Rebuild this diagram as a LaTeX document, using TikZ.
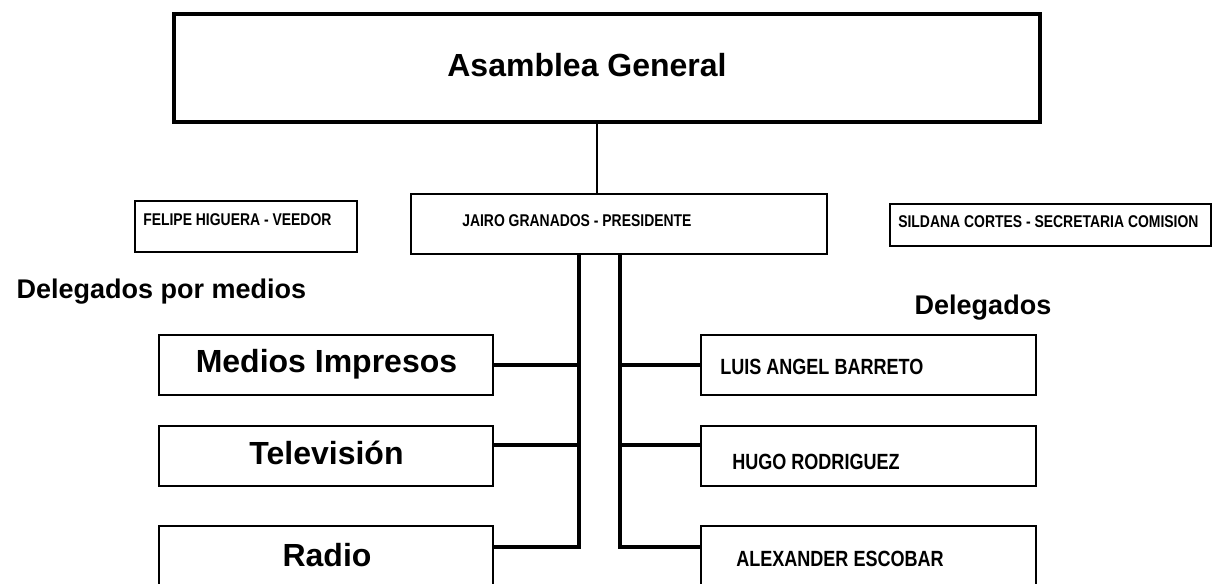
\documentclass[tikz,border=0pt]{standalone}
\usepackage{fontspec}
\setmainfont{Liberation Sans}
\usepackage{tikz}
\usetikzlibrary{calc}

\newcommand{\estrecho}[1]{\scalebox{0.82}[1]{#1}}

\begin{document}
\begin{tikzpicture}[x=0.75pt,y=-0.75pt,
		caja/.style={draw,line width=1.2pt,inner sep=0pt},
		grande/.style={font=\fontsize{24}{28}\selectfont\bfseries},
		titulo/.style={font=\fontsize{20.25}{24}\selectfont\bfseries},
		chico/.style={font=\fontsize{12.75}{15}\selectfont\bfseries,inner sep=0pt},
		medio/.style={font=\fontsize{16.5}{19}\selectfont\bfseries,inner sep=0pt},
		linea/.style={line width=2.5pt}]
	\clip (0,0) rectangle (1213,584);
	\fill[white] (0,0) rectangle (1213,584);
	%
	\node[caja,line width=2.4pt,minimum width=649.5pt,minimum height=81pt] (AG) at (607,68) {};
	\node[grande,anchor=base] (AGt) at (587,77) {Asamblea General};
	%
	\node[caja,minimum width=312pt,minimum height=45pt] (P) at (619,224) {};
	\node[chico,anchor=base west] (Pt) at (462,227) {\estrecho{JAIRO GRANADOS - PRESIDENTE}};
	\node[caja,minimum width=166.5pt,minimum height=38.25pt] (V) at (246,226.5) {};
	\node[chico,anchor=base west] (Vt) at (143,226) {\estrecho{FELIPE HIGUERA - VEEDOR}};
	\node[caja,minimum width=240.75pt,minimum height=31.5pt] (S) at (1050.5,225) {};
	\node[chico,anchor=base west] (St) at (898,227.5) {\estrecho{SILDANA CORTES - SECRETARIA COMISION}};
	%
	\node[titulo,anchor=base west] (DM) at (12,299) {Delegados por medios};
	\node[titulo,anchor=base west] (DD) at (910,315) {Delegados};
	%
	\node[caja,minimum width=250.5pt,minimum height=45pt] (MI) at (326,365) {};
	\node[grande,anchor=base] (MIt) at (326.5,373) {Medios Impresos};
	\node[caja,minimum width=250.5pt,minimum height=45pt] (TV) at (326,456) {};
	\node[grande,anchor=base] (TVt) at (326.5,464.5) {Televisión};
	\node[caja,minimum width=250.5pt,minimum height=60pt] (R) at (326,566) {};
	\node[grande,anchor=base] (Rt) at (327,566.5) {Radio};
	%
	\node[caja,minimum width=251.25pt,minimum height=45pt] (D1) at (868.5,365) {};
	\node[medio,anchor=base west] (D1t) at (720,374) {\estrecho{LUIS ANGEL BARRETO}};
	\node[caja,minimum width=251.25pt,minimum height=45pt] (D2) at (868.5,456) {};
	\node[medio,anchor=base west] (D2t) at (732,469) {\estrecho{HUGO RODRIGUEZ}};
	\node[caja,minimum width=251.25pt,minimum height=60pt] (D3) at (868.5,566) {};
	\node[medio,anchor=base west] (D3t) at (736,566) {\estrecho{ALEXANDER ESCOBAR}};
	%
	\coordinate (tL) at (579,547);
	\coordinate (tR) at (620,547);
	\coordinate (bT) at (579,445);
	%
	\draw[line width=1.6pt] ([xshift=-7.5pt]AG.south) -- ([xshift=-7.5pt]AG.south |- P.north);
	\draw[linea] (tL |- P.south) -- (tL) -- (tL -| R.east);
	\draw[linea] (tR |- P.south) -- (tR) -- (tR -| D3.west);
	\draw[linea] (MI.east) -- (MI.east -| tL);
	\draw[linea] (TV.east |- bT) -- (bT);
	\draw[linea] (tR |- D1.west) -- (D1.west);
	\draw[linea] (tR |- bT) -- (D2.west |- bT);
\end{tikzpicture}
\end{document}
